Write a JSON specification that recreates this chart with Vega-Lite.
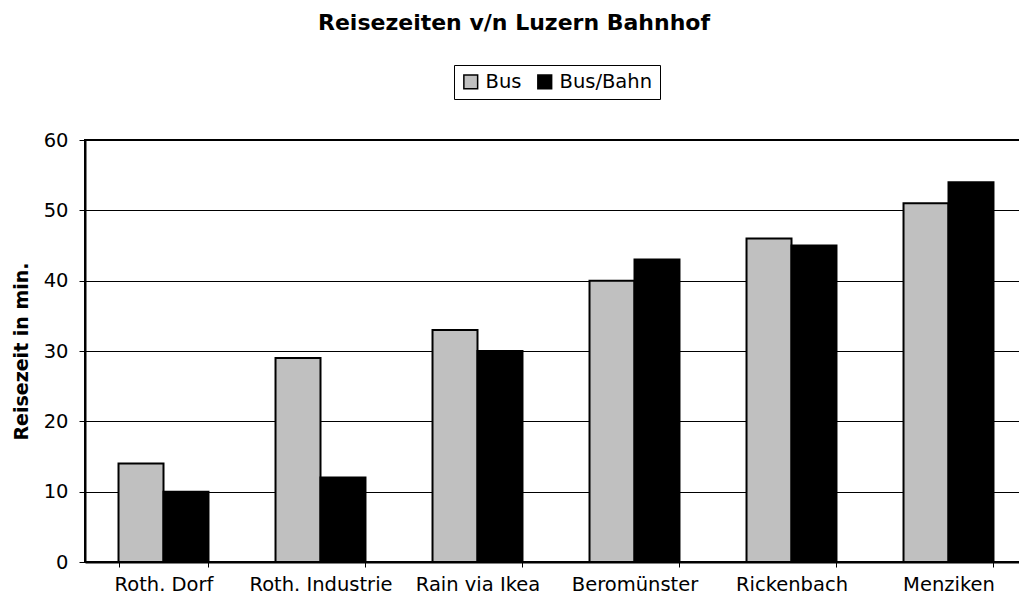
{
  "$schema": "https://vega.github.io/schema/vega-lite/v6.json",
  "width": 942,
  "height": 422,
  "autosize": {"type": "none"},
  "padding": {"left": 85, "top": 140, "right": 0, "bottom": 45},
  "background": "white",
  "title": {
    "text": "Reisezeiten v/n Luzern Bahnhof",
    "font": "DejaVu Sans",
    "fontSize": 22,
    "fontWeight": "bold",
    "color": "black",
    "anchor": "middle",
    "dx": -42,
    "offset": 30
  },
  "config": {
    "view": {"stroke": "black", "strokeWidth": 2},
    "font": "DejaVu Sans"
  },
  "data": {
    "values": [
      {"Ort": "Roth. Dorf", "Typ": "Bus", "Minuten": 14},
      {"Ort": "Roth. Dorf", "Typ": "Bus/Bahn", "Minuten": 10},
      {"Ort": "Roth. Industrie", "Typ": "Bus", "Minuten": 29},
      {"Ort": "Roth. Industrie", "Typ": "Bus/Bahn", "Minuten": 12},
      {"Ort": "Rain via Ikea", "Typ": "Bus", "Minuten": 33},
      {"Ort": "Rain via Ikea", "Typ": "Bus/Bahn", "Minuten": 30},
      {"Ort": "Beromünster", "Typ": "Bus", "Minuten": 40},
      {"Ort": "Beromünster", "Typ": "Bus/Bahn", "Minuten": 43},
      {"Ort": "Rickenbach", "Typ": "Bus", "Minuten": 46},
      {"Ort": "Rickenbach", "Typ": "Bus/Bahn", "Minuten": 45},
      {"Ort": "Menziken", "Typ": "Bus", "Minuten": 51},
      {"Ort": "Menziken", "Typ": "Bus/Bahn", "Minuten": 54}
    ]
  },
  "mark": {"type": "bar", "stroke": "black", "strokeWidth": 2},
  "encoding": {
    "x": {
      "field": "Ort",
      "type": "nominal",
      "sort": null,
      "scale": {"paddingInner": 0.427, "paddingOuter": 0.2135},
      "axis": {
        "title": null,
        "labelAngle": 0,
        "labelFont": "DejaVu Sans",
        "labelFontSize": 19.5,
        "labelColor": "black",
        "labelPadding": 8,
        "tickBand": "extent",
        "tickSize": 5,
        "tickColor": "black",
        "tickWidth": 1,
        "domainColor": "black",
        "domainWidth": 2,
        "grid": false
      }
    },
    "xOffset": {"field": "Typ", "type": "nominal", "sort": ["Bus", "Bus/Bahn"]},
    "y": {
      "field": "Minuten",
      "type": "quantitative",
      "scale": {"domain": [0, 60], "nice": false},
      "axis": {
        "values": [0, 10, 20, 30, 40, 50, 60],
        "title": "Reisezeit in min.",
        "titleFont": "DejaVu Sans",
        "titleFontSize": 19,
        "titleFontWeight": "bold",
        "titleColor": "black",
        "titlePadding": 12,
        "labelFont": "DejaVu Sans",
        "labelFontSize": 19.5,
        "labelColor": "black",
        "labelPadding": 11,
        "tickSize": 6,
        "tickColor": "black",
        "tickWidth": 1,
        "domainColor": "black",
        "domainWidth": 2,
        "gridColor": "black",
        "gridWidth": 1,
        "gridOpacity": 1
      }
    },
    "color": {
      "field": "Typ",
      "type": "nominal",
      "scale": {"domain": ["Bus", "Bus/Bahn"], "range": ["#c0c0c0", "#000000"]},
      "legend": {
        "title": null,
        "orient": "none",
        "legendX": 369,
        "legendY": -75,
        "direction": "horizontal",
        "fillColor": "white",
        "strokeColor": "black",
        "padding": 7,
        "symbolType": "square",
        "symbolSize": 190,
        "symbolStrokeColor": "black",
        "symbolStrokeWidth": 1.5,
        "labelFont": "DejaVu Sans",
        "labelFontSize": 19.5,
        "labelColor": "black",
        "labelOffset": 5,
        "columnPadding": 12
      }
    }
  }
}
